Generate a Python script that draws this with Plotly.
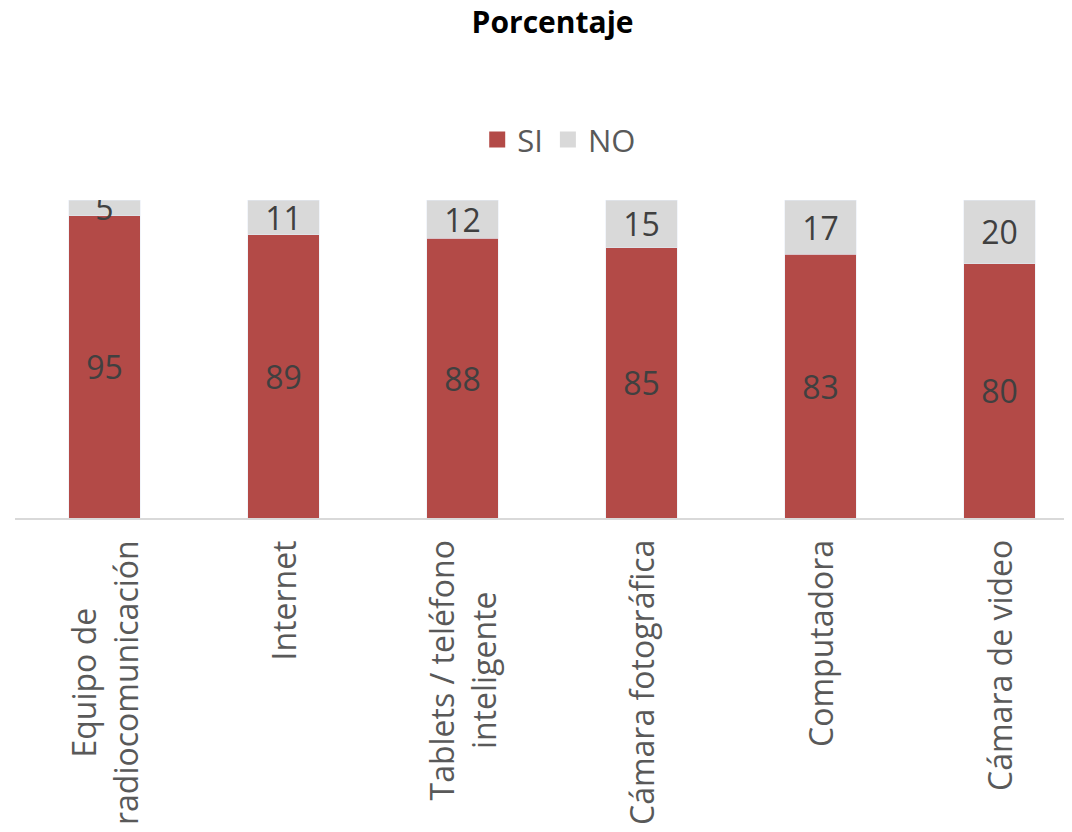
import plotly.graph_objects as go

categories = ["Equipo de<br>radiocomunicación", "Internet", "Tablets / teléfono<br>inteligente",
              "Cámara fotográfica", "Computadora", "Cámara de video"]
si_values = [95, 89, 88, 85, 83, 80]
no_values = [5, 11, 12, 15, 17, 20]

FONT = "Open Sans"
SI_COLOR = "#B34A47"
NO_COLOR = "#D9D9D9"
fig = go.Figure()
fig.add_trace(go.Bar(x=categories, y=si_values, name="SI", marker_color=SI_COLOR,
                     text=si_values, textposition="inside", insidetextanchor="middle", textangle=0,
                     textfont=dict(size=32, color="#404040", family=FONT), width=0.4,
                     showlegend=False))
fig.add_trace(go.Bar(x=categories, y=no_values, name="NO", marker_color=NO_COLOR,
                     text=no_values, textposition="inside", insidetextanchor="middle", textangle=0,
                     textfont=dict(size=32, color="#404040", family=FONT), width=0.4,
                     showlegend=False))
# legend entries with large square markers
fig.add_trace(go.Scatter(x=[None], y=[None], mode="markers", name="SI",
                         marker=dict(symbol="square", size=24, color=SI_COLOR)))
fig.add_trace(go.Scatter(x=[None], y=[None], mode="markers", name="NO",
                         marker=dict(symbol="square", size=24, color=NO_COLOR)))

for c in categories:
    fig.add_annotation(x=c, y=0, xref="x", yref="y", text=c, textangle=-90, showarrow=False,
                       yanchor="top", yshift=-20, font=dict(size=32, color="#595959", family=FONT),
                       align="center")

fig.update_layout(
    barmode="stack", width=1072, height=832,
    paper_bgcolor="white", plot_bgcolor="white",
    margin=dict(l=7, r=0, t=192, b=322),
    title=dict(text="Porcentaje", x=0.508, xanchor="center", y=1.0, yanchor="top",
               yref="container", pad=dict(t=4),
               font=dict(size=30, color="black", family=FONT, weight="bold")),
    legend=dict(orientation="h", x=0.511, xanchor="center", y=1.189, yanchor="middle",
                font=dict(size=31, color="#595959", family=FONT), traceorder="normal",
                itemwidth=30),
    uniformtext=dict(minsize=32, mode="show"),
    bargap=0.6,
)
fig.update_xaxes(range=[-0.5, 5.45], showticklabels=False, showline=True, linecolor="#D9D9D9",
                 linewidth=2, ticks="", showgrid=False, zeroline=False)
fig.update_yaxes(range=[0, 100], visible=False, showgrid=False)
fig.write_html("out.html")
